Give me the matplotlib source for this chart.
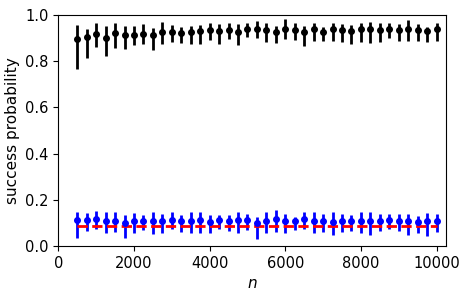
import numpy as np
import matplotlib
matplotlib.use("Agg")
import matplotlib.pyplot as plt

n_values = list(range(500, 10001, 250))

# black series: estimate and interval bounds
black_mid = [0.895, 0.905, 0.918, 0.903, 0.921, 0.913, 0.916, 0.919, 0.913, 0.925,
             0.928, 0.924, 0.928, 0.931, 0.935, 0.931, 0.935, 0.928, 0.939, 0.939,
             0.935, 0.928, 0.939, 0.935, 0.928, 0.939, 0.928, 0.939, 0.935, 0.931,
             0.939, 0.939, 0.935, 0.939, 0.935, 0.939, 0.935, 0.931, 0.939]
black_lo = [0.766, 0.815, 0.861, 0.824, 0.856, 0.853, 0.870, 0.873, 0.851, 0.873,
            0.883, 0.880, 0.877, 0.873, 0.892, 0.877, 0.896, 0.870, 0.906, 0.902,
            0.883, 0.880, 0.896, 0.892, 0.865, 0.887, 0.887, 0.890, 0.883, 0.877,
            0.883, 0.880, 0.883, 0.900, 0.887, 0.887, 0.887, 0.883, 0.890]
black_hi = [0.957, 0.942, 0.968, 0.954, 0.964, 0.954, 0.954, 0.960, 0.945, 0.971,
            0.957, 0.950, 0.954, 0.957, 0.964, 0.960, 0.968, 0.960, 0.964, 0.975,
            0.964, 0.953, 0.983, 0.964, 0.954, 0.964, 0.950, 0.964, 0.962, 0.957,
            0.968, 0.971, 0.964, 0.964, 0.960, 0.977, 0.960, 0.950, 0.967]

# blue series
blue_mid = [0.113, 0.113, 0.115, 0.110, 0.110, 0.101, 0.110, 0.110, 0.110, 0.110,
            0.113, 0.110, 0.110, 0.113, 0.105, 0.113, 0.110, 0.113, 0.113, 0.101,
            0.110, 0.115, 0.110, 0.110, 0.115, 0.110, 0.110, 0.105, 0.110, 0.110,
            0.110, 0.110, 0.110, 0.113, 0.110, 0.110, 0.105, 0.110, 0.110]
blue_lo = [0.033, 0.066, 0.072, 0.056, 0.059, 0.033, 0.056, 0.069, 0.053, 0.056,
           0.072, 0.062, 0.056, 0.056, 0.056, 0.075, 0.066, 0.056, 0.069, 0.029,
           0.056, 0.062, 0.056, 0.069, 0.075, 0.056, 0.062, 0.046, 0.062, 0.066,
           0.056, 0.046, 0.066, 0.072, 0.066, 0.046, 0.056, 0.043, 0.062]
blue_hi = [0.149, 0.142, 0.153, 0.149, 0.149, 0.134, 0.142, 0.134, 0.145, 0.140,
           0.145, 0.134, 0.149, 0.149, 0.134, 0.134, 0.134, 0.149, 0.140, 0.127,
           0.149, 0.156, 0.140, 0.127, 0.145, 0.149, 0.140, 0.145, 0.140, 0.134,
           0.145, 0.145, 0.140, 0.140, 0.140, 0.140, 0.131, 0.142, 0.140]

# reference level (red dashed)
baseline = [0.088] * len(n_values)

n = np.array(n_values)
bm, bl, bh = map(np.array, (black_mid, black_lo, black_hi))
um, ul, uh = map(np.array, (blue_mid, blue_lo, blue_hi))

fig = plt.figure(figsize=(4.67, 2.97), dpi=100)
ax = fig.add_axes([0.125, 0.172, 0.83, 0.777])

ax.errorbar(n, bm, yerr=[bm - bl, bh - bm], fmt='o', color='black',
            markersize=4, elinewidth=2)
ax.errorbar(n, um, yerr=[um - ul, uh - um], fmt='o', color='blue',
            markersize=4, elinewidth=2)
ax.plot(n, baseline, 'r--', linewidth=2)

ax.set_xlim(0, 10250)
ax.set_ylim(0, 1.0)
ax.set_xticks([0, 2000, 4000, 6000, 8000, 10000])
ax.tick_params(labelsize=10.5)
ax.set_xlabel('$n$', fontsize=11)
ax.set_ylabel('success probability', fontsize=11)

fig.savefig('out.png', dpi=100)
